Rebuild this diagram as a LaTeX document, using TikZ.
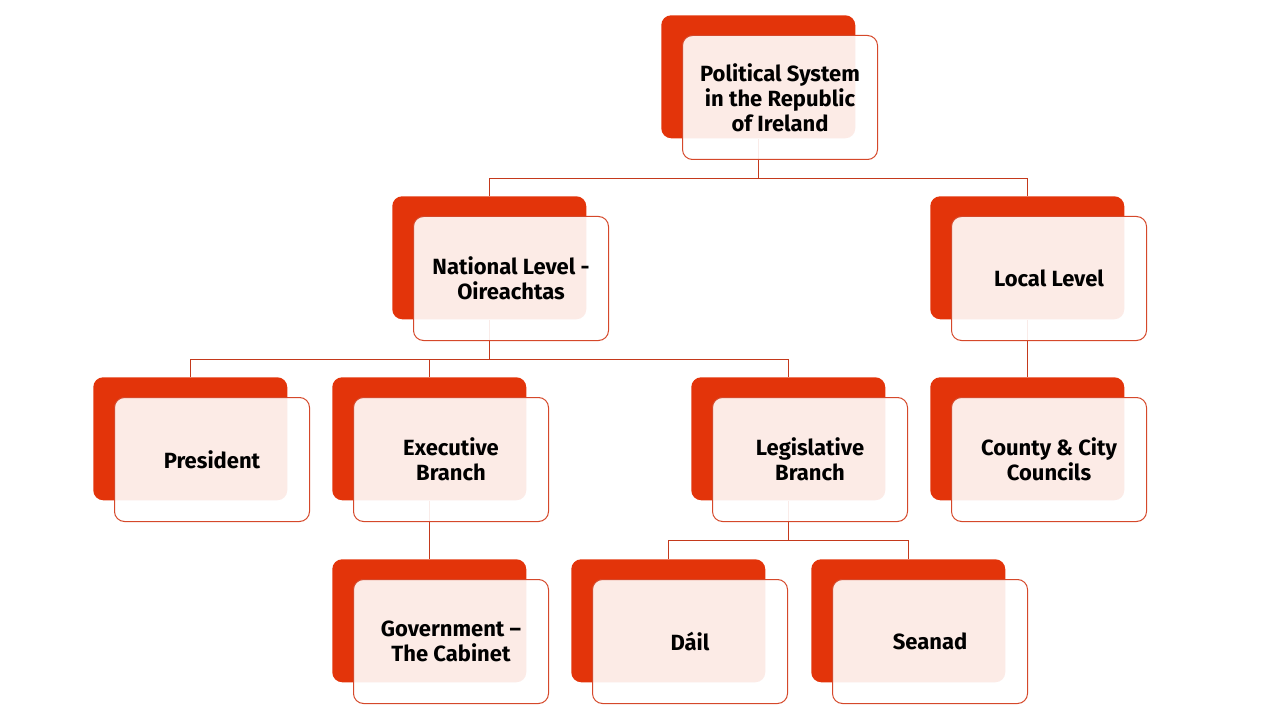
\documentclass[tikz,border=0pt]{standalone}
\usepackage{fontspec}
\setmainfont{Fira Sans}
\usetikzlibrary{calc}
\definecolor{backred}{HTML}{E3340A}
\definecolor{linered}{HTML}{C4391C}
\definecolor{edgered}{HTML}{D5482A}
\tikzset{
  backbox/.style={fill=backred, rounded corners=7.5pt, minimum width=145.5pt, minimum height=92.25pt, anchor=north west, inner sep=0pt},
  frontbox/.style={draw=edgered, line width=0.75pt, fill=white, fill opacity=0.9, text opacity=1, rounded corners=7.5pt, minimum width=146.25pt, minimum height=93pt, anchor=north west, inner sep=0pt, align=center, font=\bfseries\fontsize{16.5}{18.75}\selectfont},
  conn/.style={draw=linered, line width=0.9pt}
}
\newcommand{\orgbox}[4]{%
  \node[backbox] (#1-b) at (#2,#3) {};
  \node[frontbox] (#1) at (#2+21,#3+20) {#4};
}
\begin{document}
\begin{tikzpicture}[x=0.75pt,y=-0.75pt]
\useasboundingbox (0,0) rectangle (1280,720);
% helper outlines (invisible) of the back boxes for the connector layer
\foreach \n/\x/\y in {top/661/15, nat/392/196, loc/930/196, pres/93/377, exe/332/377, leg/691/377, cty/930/377, gov/332/559, dail/571/559, sea/811/559}{
  \path (\x,\y) node[backbox, fill=none] (\n-h) {};
}
% connectors drawn first (behind boxes)
\draw[conn] (top-h.south) -- ($(top-h.south)+(0,40)$) coordinate (bus1);
\draw[conn] (bus1) -| (nat-h.north);
\draw[conn] (bus1) -| (loc-h.north);
\draw[conn] (nat-h.south) -- ($(nat-h.south)+(0,40)$) coordinate (bus2);
\draw[conn] (bus2) -| (pres-h.north);
\draw[conn] (bus2) -| (exe-h.north);
\draw[conn] (bus2) -| (leg-h.north);
\draw[conn] (loc-h.south) -- (cty-h.north);
\draw[conn] (exe-h.south) -- (gov-h.north);
\draw[conn] (leg-h.south) -- ($(leg-h.south)+(0,40)$) coordinate (bus3);
\draw[conn] (bus3) -| (dail-h.north);
\draw[conn] (bus3) -| (sea-h.north);
% boxes
\orgbox{top}{661}{15}{Political System\\in the Republic\\of Ireland}
\orgbox{nat}{392}{196}{National Level -\\Oireachtas}
\orgbox{loc}{930}{196}{Local Level}
\orgbox{pres}{93}{377}{President}
\orgbox{exe}{332}{377}{Executive\\Branch}
\orgbox{leg}{691}{377}{Legislative\\Branch}
\orgbox{cty}{930}{377}{County \& City\\Councils}
\orgbox{gov}{332}{559}{Government –\\The Cabinet}
\orgbox{dail}{571}{559}{Dáil}
\orgbox{sea}{811}{559}{Seanad}
\end{tikzpicture}
\end{document}
